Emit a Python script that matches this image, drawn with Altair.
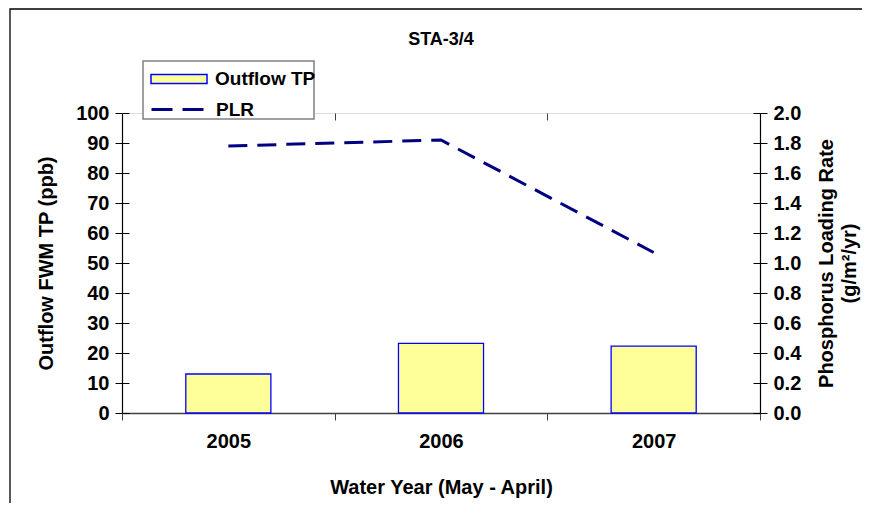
import altair as alt
import pandas as pd

years = ["2005", "2006", "2007"]
outflow_tp = [13.0, 23.2, 22.3]
plr = [1.78, 1.82, 1.07]
bar_series = "Outflow TP"
line_series = "PLR"
left_ticks = [0, 10, 20, 30, 40, 50, 60, 70, 80, 90, 100]
right_ticks = [0.0, 0.2, 0.4, 0.6, 0.8, 1.0, 1.2, 1.4, 1.6, 1.8, 2.0]

df = pd.DataFrame({"year": years, "tp": outflow_tp, "plr": plr})
df["s_bar"] = bar_series
df["s_line"] = line_series

FONT = "Liberation Sans"
FS = 20
LFS = 19
TFS = 18

x_scale = alt.Scale(paddingInner=0, paddingOuter=0)
txt = dict(labelFont=FONT, labelFontSize=FS, labelFontWeight="bold", labelColor="black",
           titleFont=FONT, titleFontSize=FS, titleFontWeight="bold", titleColor="black")

x_main = alt.X(
    "year:N", title="Water Year (May - April)", scale=x_scale,
    axis=alt.Axis(labelAngle=0, tickBand="extent", tickSize=7, tickColor="#404040",
                  domainColor="#404040", domainWidth=1.5, labelPadding=11,
                  titlePadding=26, **txt),
)
x_inner = alt.X(
    "year:N", title=None, scale=x_scale,
    axis=alt.Axis(tickBand="extent", tickSize=7, tickColor="#404040", offset=-7,
                  labels=False, domain=False, grid=False),
)
x_none = alt.X("year:N", scale=x_scale, axis=None)

frame = alt.Chart(pd.DataFrame({"k": [0]})).mark_rect(
    fill="white", fillOpacity=0, stroke="black", strokeWidth=1.3
).encode(x=alt.value(-112), x2=alt.value(900), y=alt.value(-104), y2=alt.value(700))

bars = alt.Chart(df).mark_bar(
    width=alt.RelativeBandSize(0.4), stroke="#0000FF", strokeWidth=1.3
).encode(
    x=x_main,
    y=alt.Y(
        "tp:Q", scale=alt.Scale(domain=[0, 100], nice=False),
        axis=alt.Axis(values=left_ticks, title="Outflow FWM TP (ppb)", grid=False,
                      tickSize=7, tickColor="black", domainColor="black", domainWidth=1.2,
                      labelPadding=6, titlePadding=19, **txt),
    ),
    fill=alt.Fill(
        "s_bar:N", scale=alt.Scale(domain=[bar_series], range=["#FFFF99"]),
        legend=alt.Legend(
            title=None, orient="none", legendX=28, legendY=-63, padding=0,
            symbolType="M-1,-0.16L1,-0.16L1,0.16L-1,0.16Z", symbolSize=3136,
            symbolStrokeColor="#0000FF", symbolStrokeWidth=1.5, labelOffset=7,
            labelFont=FONT, labelFontSize=LFS, labelFontWeight="bold", labelColor="black",
        ),
    ),
)

left_inner = alt.Chart(df).mark_bar(opacity=0).encode(
    x=x_inner,
    y=alt.Y("tp:Q", scale=alt.Scale(domain=[0, 100], nice=False),
            axis=alt.Axis(orient="left", values=left_ticks, offset=-7, tickSize=7,
                          tickColor="black", labels=False, domain=False, grid=False, title=None)),
)

line = alt.Chart(df).mark_line(strokeDash=[19, 10], strokeWidth=3).encode(
    x=x_none,
    y=alt.Y(
        "plr:Q", scale=alt.Scale(domain=[0, 2], nice=False),
        axis=alt.Axis(orient="right", values=right_ticks, format=".1f", grid=False,
                      title=["Phosphorus Loading Rate", "(g/m²/yr)"], titleAngle=270,
                      titleLineHeight=23,
                      tickSize=7, tickColor="black", domainColor="black", domainWidth=1.2,
                      labelPadding=6, titlePadding=13, **txt),
    ),
    stroke=alt.Stroke(
        "s_line:N", scale=alt.Scale(domain=[line_series], range=["#000080"]),
        legend=alt.Legend(
            title=None, orient="none", legendX=28, legendY=-31, padding=0,
            symbolType="stroke", symbolSize=2704, symbolDash=[21, 10],
            symbolStrokeWidth=3, labelOffset=11,
            labelFont=FONT, labelFontSize=LFS, labelFontWeight="bold", labelColor="black",
        ),
    ),
)

right_inner = alt.Chart(df).mark_line(opacity=0).encode(
    x=x_none,
    y=alt.Y("plr:Q", scale=alt.Scale(domain=[0, 2], nice=False),
            axis=alt.Axis(orient="right", values=right_ticks, offset=-7, tickSize=7,
                          tickColor="black", labels=False, domain=False, grid=False, title=None)),
)

legend_box = alt.Chart(pd.DataFrame({"k": [0]})).mark_rect(
    fill="white", stroke="#808080", strokeWidth=1.5
).encode(x=alt.value(21), x2=alt.value(192), y=alt.value(-52), y2=alt.value(6))

chart = alt.layer(frame, bars, left_inner, line, right_inner, legend_box).resolve_scale(
    x="independent", y="independent", fill="independent", stroke="independent"
).properties(
    width=638, height=300,
    title=alt.Title("STA-3/4", font=FONT, fontSize=TFS, fontWeight="bold", color="black",
                    anchor="middle", frame="group", offset=0, dy=41),
    autosize=alt.AutoSizeParams(type="none"),
    padding={"left": 114, "top": 105, "right": 102, "bottom": 90},
).configure_view(stroke="#808080", strokeWidth=1.5).configure(background="white")

chart.save("out.html", embed_options={"renderer": "svg", "actions": False})
